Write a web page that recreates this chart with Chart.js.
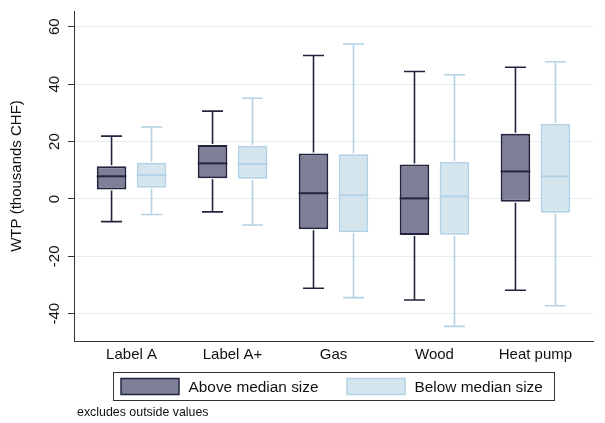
<!DOCTYPE html>
<html>
<head>
<meta charset="utf-8">
<script src="https://cdn.jsdelivr.net/npm/chart.js"></script>
<style>
  html, body { margin: 0; padding: 0; background: #fff; }
  #wrap { width: 605px; height: 423px; }
</style>
</head>
<body>
<div id="wrap"><canvas id="boxChart"></canvas></div>
<script>
// Box plot data (thousands CHF)
const categories = ["Label A", "Label A+", "Gas", "Wood", "Heat pump"];
const seriesNames = ["Above median size", "Below median size"];

const aboveLow = [-7.9, -4.5, -31.1, -35.2, -31.8];
const aboveQ1 = [3.3, 7.2, -10.6, -12.6, -1.0];
const aboveMed = [7.9, 12.4, 2.0, 0.2, 9.6];
const aboveQ3 = [11.4, 18.8, 15.8, 12.0, 22.7];
const aboveHigh = [21.9, 30.6, 50.0, 44.4, 45.9];

const belowLow = [-5.4, -9.1, -34.4, -44.4, -37.2];
const belowQ1 = [3.9, 7.0, -11.6, -12.5, -4.8];
const belowMed = [8.3, 12.2, 1.3, 0.9, 7.9];
const belowQ3 = [12.6, 18.5, 15.6, 13.0, 26.2];
const belowHigh = [25.1, 35.1, 54.0, 43.3, 47.8];

const yTicks = [-40, -20, 0, 20, 40, 60];

const darkFill = "#7e8097";
const darkLine = "#22243f";
const lightFill = "#d5e5ee";
const lightLine = "#b3d2e5";
const fontFamily = "'Liberation Sans', Arial, sans-serif";

// whisker / median info per dataset
const boxStats = [
  { low: aboveLow, med: aboveMed, high: aboveHigh, line: darkLine },
  { low: belowLow, med: belowMed, high: belowHigh, line: lightLine },
];

// Draw whiskers, caps and medians on top of the floating bars
const whiskerPlugin = {
  id: "whiskers",
  afterDatasetsDraw(chart) {
    const ctx = chart.ctx;
    const yScale = chart.scales.y;
    boxStats.forEach((stats, d) => {
      const meta = chart.getDatasetMeta(d);
      const ds = chart.data.datasets[d];
      meta.data.forEach((bar, i) => {
        const x = bar.x;
        const half = bar.width / 2;
        const yTop = yScale.getPixelForValue(ds.data[i].y[1]);
        const yBot = yScale.getPixelForValue(ds.data[i].y[0]);
        const yHigh = yScale.getPixelForValue(stats.high[i]);
        const yLow = yScale.getPixelForValue(stats.low[i]);
        const yMed = yScale.getPixelForValue(stats.med[i]);
        const cap = 10.5;
        ctx.save();
        ctx.strokeStyle = stats.line;
        ctx.lineWidth = 1.6;
        ctx.beginPath();
        ctx.moveTo(x, yTop - 1);
        ctx.lineTo(x, yHigh);
        ctx.moveTo(x - cap, yHigh);
        ctx.lineTo(x + cap, yHigh);
        ctx.moveTo(x, yBot + 1);
        ctx.lineTo(x, yLow);
        ctx.moveTo(x - cap, yLow);
        ctx.lineTo(x + cap, yLow);
        ctx.stroke();
        ctx.lineWidth = 2;
        ctx.beginPath();
        ctx.moveTo(x - half, yMed);
        ctx.lineTo(x + half, yMed);
        ctx.stroke();
        ctx.restore();
      });
    });
  },
};

// Boxed legend below the plot plus the footnote
const legendNotePlugin = {
  id: "legendNote",
  afterDraw(chart) {
    const ctx = chart.ctx;
    const area = chart.chartArea;
    ctx.save();
    ctx.font = "15.4px " + fontFamily;
    ctx.textBaseline = "middle";
    const fills = [darkFill, lightFill];
    const lines = [darkLine, lightLine];
    const swW = 58, swH = 16, pad = 7.5, gap = 9.5, itemGap = 28.5;
    const w0 = ctx.measureText(seriesNames[0]).width;
    const w1 = ctx.measureText(seriesNames[1]).width;
    const total = pad + swW + gap + w0 + itemGap + swW + gap + w1 + 12;
    const left = Math.round(area.left + 39) + 0.5;
    const top = area.bottom + 31.5;
    const h = 28;
    ctx.strokeStyle = "#333";
    ctx.lineWidth = 1;
    ctx.strokeRect(left, top, Math.round(total), h);
    let x = left + pad;
    const cy = top + h / 2;
    [w0, w1].forEach((w, k) => {
      ctx.fillStyle = fills[k];
      ctx.fillRect(x, cy - swH / 2, swW, swH);
      ctx.strokeStyle = lines[k];
      ctx.lineWidth = 1.5;
      ctx.strokeRect(x, cy - swH / 2, swW, swH);
      ctx.fillStyle = "#111";
      ctx.fillText(seriesNames[k], x + swW + gap, cy + 1);
      x += swW + gap + w + itemGap;
    });
    ctx.font = "12.4px " + fontFamily;
    ctx.fillStyle = "#111";
    ctx.fillText("excludes outside values", area.left + 3, 413);
    ctx.restore();
  },
};

const toBoxes = (q1, q3) => q1.map((v, i) => ({ x: i + 1, y: [v, q3[i]] }));

new Chart(document.getElementById("boxChart"), {
  type: "bar",
  data: {
    datasets: [
      {
        label: seriesNames[0],
        data: toBoxes(aboveQ1, aboveQ3),
        backgroundColor: darkFill,
        borderColor: darkLine,
        borderWidth: 2,
        borderSkipped: false,
        categoryPercentage: 0.792,
        barPercentage: 0.74,
      },
      {
        label: seriesNames[1],
        data: toBoxes(belowQ1, belowQ3),
        backgroundColor: lightFill,
        borderColor: lightLine,
        borderWidth: 2,
        borderSkipped: false,
        categoryPercentage: 0.792,
        barPercentage: 0.74,
      },
    ],
  },
  options: {
    responsive: true,
    maintainAspectRatio: false,
    animation: false,
    layout: { padding: { left: 6, right: 12, top: 7, bottom: 0 } },
    plugins: {
      legend: { display: false },
      tooltip: { enabled: false },
    },
    scales: {
      x: {
        type: "linear",
        offset: false,
        min: 0.43,
        max: 5.57,
        afterBuildTicks: (axis) => {
          axis.ticks = categories.map((c, i) => ({ value: i + 1 }));
        },
        afterFit: (scale) => {
          scale.height = 82;
        },
        grid: { display: false, drawTicks: false, offset: false },
        border: { display: true, color: "#333", width: 1 },
        ticks: {
          padding: 5,
          maxRotation: 0,
          autoSkip: false,
          color: "#111",
          font: { family: fontFamily, size: 15 },
          callback: (v) => categories[v - 1],
        },
      },
      y: {
        min: -49.5,
        max: 65.5,
        afterBuildTicks: (axis) => {
          axis.ticks = yTicks.map((v) => ({ value: v }));
        },
        afterFit: (scale) => {
          scale.width = 68;
        },
        grid: {
          color: "#e4edf2",
          lineWidth: 1,
          tickColor: "#333",
          tickLength: 6,
        },
        border: { display: true, color: "#333", width: 1 },
        ticks: {
          minRotation: 90,
          maxRotation: 90,
          crossAlign: "center",
          padding: 2,
          color: "#111",
          font: { family: fontFamily, size: 15 },
        },
        title: {
          display: true,
          text: "WTP (thousands CHF)",
          color: "#111",
          font: { family: fontFamily, size: 15 },
          padding: { top: 2, bottom: 0 },
        },
      },
    },
  },
  plugins: [whiskerPlugin, legendNotePlugin],
});
</script>
</body>
</html>
